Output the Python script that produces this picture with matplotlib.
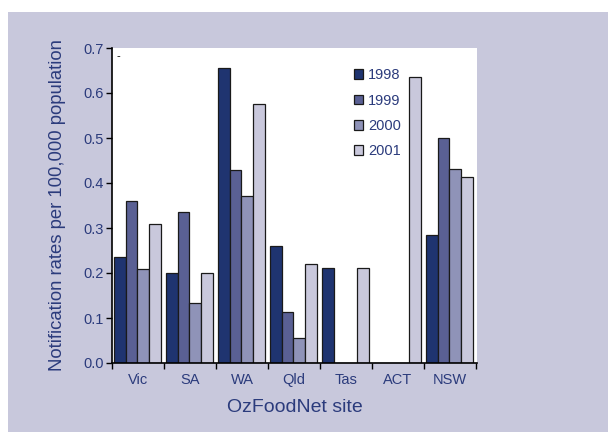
import matplotlib
matplotlib.use("Agg")
import matplotlib.pyplot as plt
import numpy as np
from matplotlib.patches import Rectangle

plt.rcParams['font.family'] = ['Liberation Sans', 'DejaVu Sans']

sites = ["Vic", "SA", "WA", "Qld", "Tas", "ACT", "NSW"]
years = ["1998", "1999", "2000", "2001"]
rates_1998 = [0.235, 0.200, 0.655, 0.260, 0.212, 0.0, 0.284]
rates_1999 = [0.361, 0.335, 0.430, 0.113, 0.0, 0.0, 0.499]
rates_2000 = [0.209, 0.134, 0.372, 0.056, 0.0, 0.0, 0.432]
rates_2001 = [0.310, 0.199, 0.575, 0.220, 0.212, 0.635, 0.413]
series = [rates_1998, rates_1999, rates_2000, rates_2001]
colors = ["#1f3470", "#5a6094", "#8f93b8", "#c9c8dc"]
text_color = "#2b3b7c"
bg = "#c8c8dc"

W, H = 608, 432
fig = plt.figure(figsize=(W / 100, H / 100), dpi=100)
fig.patch.set_facecolor("white")
fig.patches.append(Rectangle((8 / W, 0), 1 - 8 / W, 1 - 12 / H,
                             transform=fig.transFigure, facecolor=bg,
                             edgecolor="none", zorder=-10))

ax = fig.add_axes([112 / W, (H - 363) / H, 365 / W, 315 / H])
ax.set_facecolor("white")

x = np.arange(len(sites))
bw = 0.226
for k, (vals, c, yr) in enumerate(zip(series, colors, years)):
    ax.bar(x + (k - 1.5) * bw - 0.01, vals, width=bw, color=c,
           edgecolor="#1a1a1a", linewidth=0.9, label=yr, zorder=2)

ax.set_xlim(-0.5, 6.52)
ax.set_ylim(0, 0.7)
ax.set_yticks(np.arange(0, 0.71, 0.1))
ax.set_yticklabels([f"{v:.1f}" for v in np.arange(0, 0.71, 0.1)])
ax.set_xticks(x)
ax.set_xticklabels(sites)
ax.set_xticks(np.arange(-0.5, 7.0, 1.0), minor=True)
ax.tick_params(axis="x", which="major", length=0, pad=7, labelsize=10.5,
               labelcolor=text_color)
ax.tick_params(axis="x", which="minor", length=4, width=1, direction="out",
               color="black")
ax.tick_params(axis="y", length=4, width=1, direction="out", color="black",
               labelsize=10.5, labelcolor=text_color, pad=2)

for s in ["top", "right"]:
    ax.spines[s].set_visible(False)
for s in ["left", "bottom"]:
    ax.spines[s].set_color("black")
    ax.spines[s].set_linewidth(1.2)

ax.set_ylabel("Notification rates per 100,000 population", fontsize=13.3,
              color=text_color, labelpad=12)
ax.set_xlabel("OzFoodNet site", fontsize=14, color=text_color, labelpad=9)

ax.text(0.012, 0.975, "-", transform=ax.transAxes, fontsize=8,
        color="black", ha="left", va="center")

leg = ax.legend(loc="upper left", bbox_to_anchor=(0.635, 0.968), frameon=False,
                fontsize=10.5, handlelength=0.65, handleheight=0.65,
                handletextpad=0.3, labelspacing=0.78, borderpad=0.2)
for t in leg.get_texts():
    t.set_color(text_color)

fig.savefig("out.png", dpi=100)
